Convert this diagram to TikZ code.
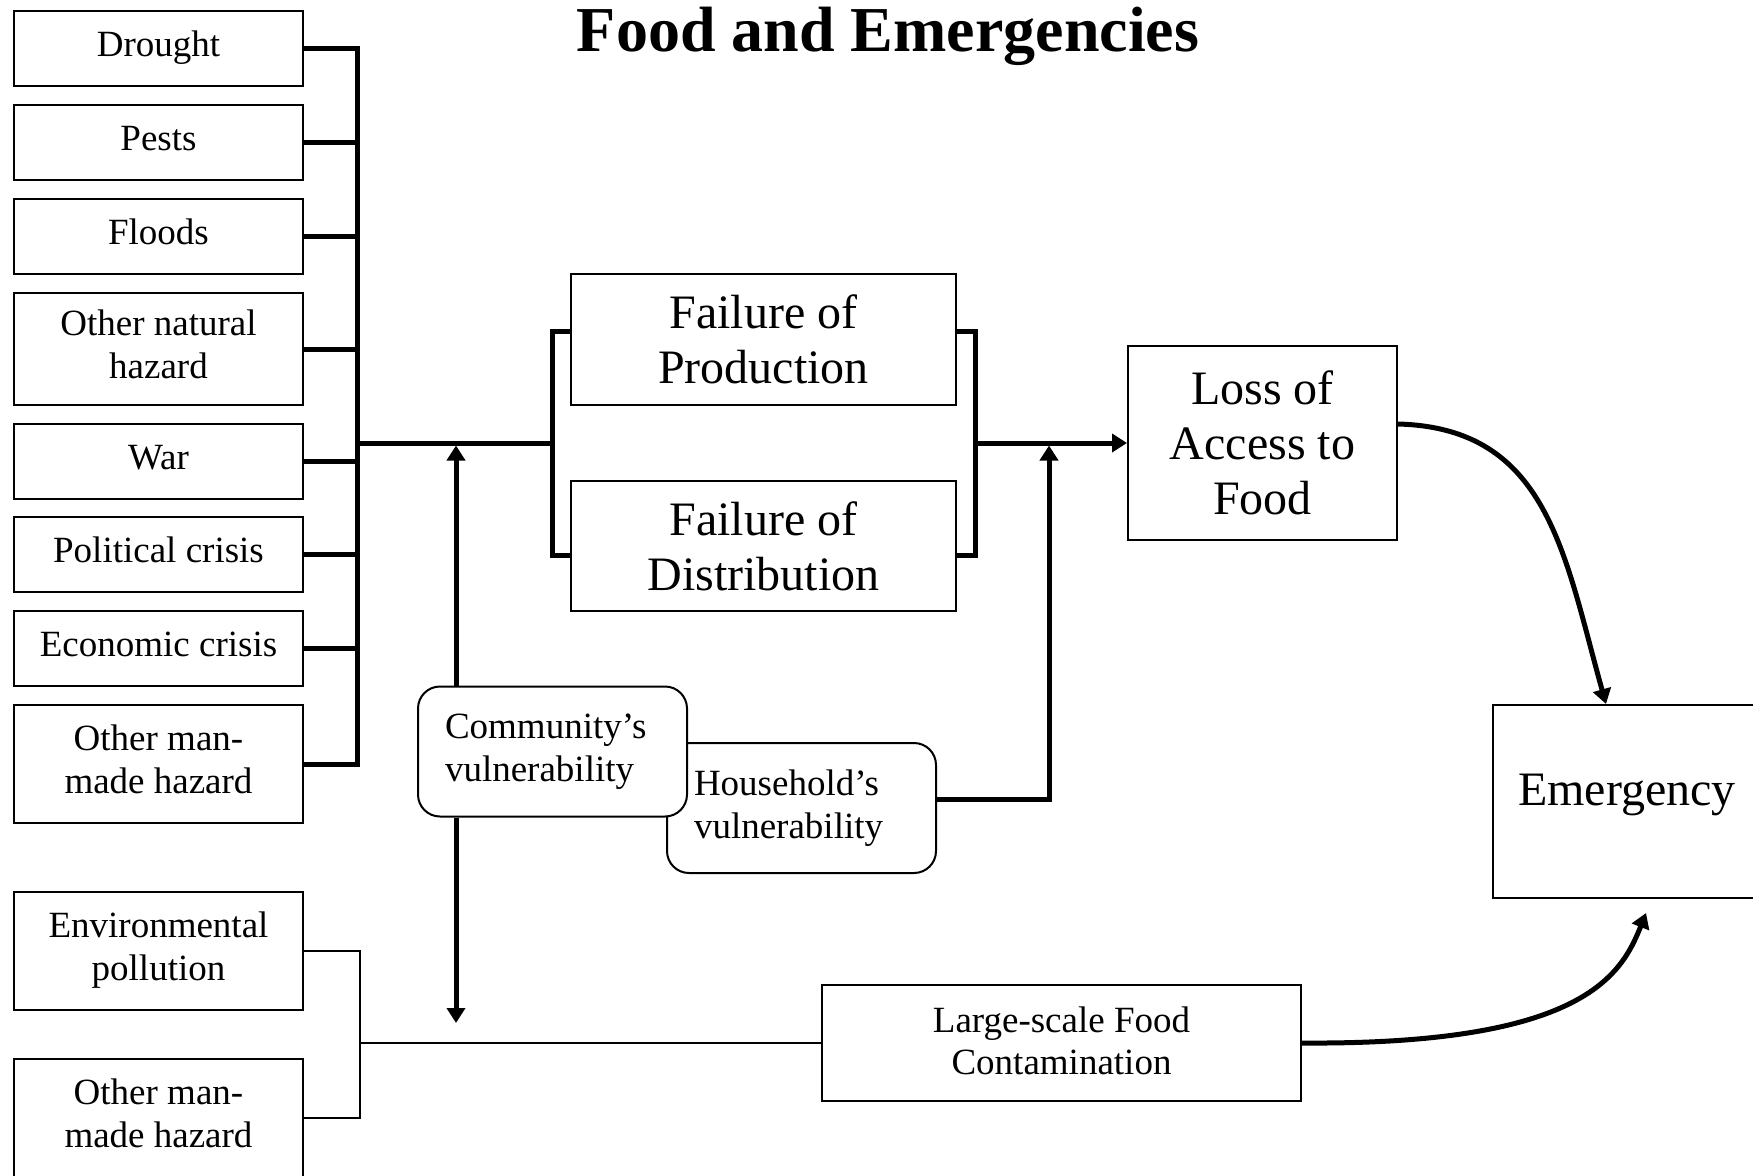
\documentclass[tikz,border=0pt]{standalone}
\usepackage{fontspec}
\setmainfont{Liberation Serif}
\usetikzlibrary{arrows.meta,calc}
\begin{document}
\begin{tikzpicture}[x=1pt,y=-1pt,
  >={Triangle[length=15pt,width=18pt]},
  heavy/.style={line width=5pt},
  light/.style={line width=2pt},
  box/.style={draw, line width=2pt, fill=white, inner sep=0pt, align=center,
    font=\fontsize{37}{42.5}\selectfont},
  bigbox/.style={box, font=\fontsize{48}{55}\selectfont},
  % text box with fixed line struts, so every label sits on the same baseline grid
  tbox/.style n args={3}{draw, line width=2pt, fill=white, inner sep=0pt,
    text width=#1, align=flush center, font=\fontsize{37}{42.5}\selectfont,
    execute at begin node={\rule{0pt}{#2}},
    execute at end node={\rule[-#3]{0pt}{0pt}}},
  src/.style={tbox={280pt}{26pt}{10pt}, minimum width=289pt, minimum height=75pt},
  srctall/.style={tbox={280pt}{26pt}{10pt}, minimum width=289pt, minimum height=118pt},
  vuln/.style={draw, line width=2pt, fill=white, rounded corners=22pt,
    text width=215pt, inner xsep=27pt, inner ysep=0pt,
    minimum width=269pt, minimum height=130pt, align=flush left,
    font=\fontsize{37}{43}\selectfont}]

% page frame
\useasboundingbox (0,0) rectangle (1753,1175);
\fill[white] (0,0) rectangle (1753,1175);
\clip (0,0) rectangle (1753,1175);

% title
\node[font=\fontsize{64}{70}\selectfont\bfseries, anchor=base] (title) at (888,51) {Food and Emergencies};

% hazards
\node[src] (drought) at (158.5,48.5) {Drought};
\node[src] (pests) at (158.5,142.5) {Pests};
\node[src] (floods) at (158.5,236) {Floods};
\node[src, minimum height=112pt] (natural) at (158.5,349) {Other natural\\hazard};
\node[src] (war) at (158.5,461) {War};
\node[src] (political) at (158.5,554.5) {Political crisis};
\node[src] (economic) at (158.5,648.5) {Economic crisis};
\node[srctall] (manmade) at (158.5,764) {Other man-\\made hazard};
\node[srctall] (pollution) at (158.5,951) {Environmental\\pollution};
\node[srctall] (manmadeb) at (158.5,1118) {Other man-\\made hazard};

% failures, outcomes
\node[bigbox, minimum width=385pt, minimum height=131pt] (fop) at (763.5,339.5) {Failure of\\Production};
\node[bigbox, minimum width=385pt, minimum height=130pt] (fod) at (763.5,546) {Failure of\\Distribution};
\node[bigbox, minimum width=269pt, minimum height=194pt] (loss) at (1262.5,443) {Loss of\\Access to\\Food};
\node[tbox={250pt}{32pt}{23.6pt}, font=\fontsize{48}{55}\selectfont,
      minimum width=268pt, minimum height=193pt] (emer) at (1627,801.5) {Emergency};
\node[tbox={460pt}{26pt}{5pt}, minimum width=479pt, minimum height=116pt] (lsfc) at (1061.5,1043) {Large-scale Food\\Contamination};

% reference points for the connectors
\coordinate (bus) at (357,443);
\coordinate (busb) at (360,1043);
\coordinate (bl) at (552,443);
\coordinate (br) at (975,443);
\coordinate (mainlow) at (0,445.5);
\coordinate (cx) at (456,0);
\coordinate (hx) at (1049,0);

% hazard bus
\draw[heavy] (drought.east) -| (manmade.east -| bus) -- (manmade.east);
\foreach \n in {pests,floods,natural,war,political,economic}
  \draw[heavy] (\n.east) -- (\n.east -| bus);
\draw[heavy] (bus) -- (bl);

% brackets around the two failures
\draw[heavy] ($(fop.west)+(0,-8.5)$) -| (bl) |- ($(fod.west)+(0,9)$);
\draw[heavy] ($(fop.east)+(0,-8.5)$) -| (br) |- ($(fod.east)+(0,9)$);
\draw[heavy,->] (br) -- (loss.west);

% contamination branch
\draw[light] (pollution.east) -| (manmadeb.east -| busb) -- (manmadeb.east);
\draw[light] (busb) -- (lsfc.west);

% vulnerability boxes
\node[vuln] (hh) at (801.5,808) {Household’s\\vulnerability};
\node[vuln] (comm) at (552.5,751.5) {Community’s\\vulnerability};

\draw[heavy,->] (comm.north -| cx) -- (cx |- mainlow);
\draw[heavy,->] (comm.south -| cx) -- (cx |- 0,1023);
\draw[heavy,->] ($(hh.east)+(0,-9)$) -| (hx |- mainlow);

% paths into the emergency
\draw[heavy,->] ($(loss.east)+(0,-19)$) .. controls +(150,4) and +(-42,-150) .. ($(emer.north west)+(114,0)$);
\draw[heavy,->] (lsfc.east) .. controls +(280,2) and +(-25,63) .. ($(emer.south west)+(154,14)$);

\end{tikzpicture}
\end{document}
